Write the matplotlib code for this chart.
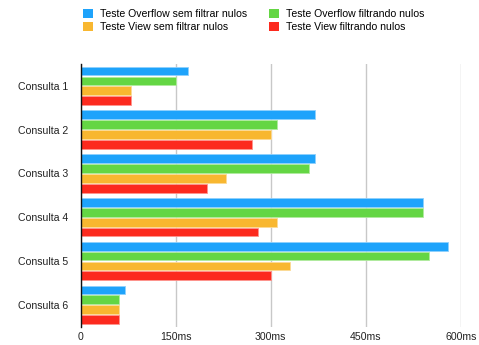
import matplotlib
matplotlib.use("Agg")
import matplotlib.pyplot as plt
import numpy as np
from matplotlib.patches import Patch

plt.rcParams['font.family'] = ['Liberation Sans', 'DejaVu Sans']

categories = ["Consulta 1", "Consulta 2", "Consulta 3", "Consulta 4", "Consulta 5", "Consulta 6"]
overflow_sem = [170, 370, 370, 540, 580, 70]
overflow_filtrando = [150, 310, 360, 540, 550, 60]
view_sem = [80, 300, 230, 310, 330, 60]
view_filtrando = [80, 270, 200, 280, 300, 60]
series_names = ["Teste Overflow sem filtrar nulos", "Teste Overflow filtrando nulos",
                "Teste View sem filtrar nulos", "Teste View filtrando nulos"]
xticks = [0, 150, 300, 450, 600]
xtick_labels = ["0", "150ms", "300ms", "450ms", "600ms"]

colors = ['#1ea3fb', '#64d644', '#f8b730', '#fc2a1e']
edges = ['#8fd0fd', '#b0eb9f', '#fcdb96', '#fd948d']

fig = plt.figure(figsize=(4.79, 3.45), dpi=100)
ax = fig.add_axes([80.5/479, 1-326.7/345, (461-80.5)/479, (326.7-64)/345])

series = [overflow_sem, overflow_filtrando, view_sem, view_filtrando]
y = np.arange(len(categories))
pitch = 0.226
h = 0.2
for i, (vals, c, e) in enumerate(zip(series, colors, edges)):
    ax.barh(y + (i - 1.5) * pitch, vals, height=h, color=c, edgecolor=e, linewidth=0.6, zorder=3)

ax.set_xlim(0, 600)
ax.set_ylim(len(categories) - 0.5, -0.5)
ax.set_yticks(y)
ax.set_yticklabels(categories, fontsize=7.6, color='#222222')
ax.set_xticks(xticks)
ax.set_xticklabels(xtick_labels, fontsize=7.6, color='#222222')
ax.tick_params(axis='both', length=0, pad=4)
ax.tick_params(axis='y', pad=9)
ax.grid(axis='x', color='#c8c8c8', linewidth=1.0, zorder=0)
for s in ['top', 'right', 'bottom']:
    ax.spines[s].set_visible(False)
ax.spines['left'].set_color('#111111')
ax.spines['left'].set_linewidth(1.0)
ax.spines['left'].set_zorder(4)

handles = [Patch(facecolor=colors[0]), Patch(facecolor=colors[2]),
           Patch(facecolor=colors[1]), Patch(facecolor=colors[3])]
labels = [series_names[0], series_names[2], series_names[1], series_names[3]]
fig.legend(handles, labels, loc='upper left', bbox_to_anchor=(83/479, 1-9/345), ncol=2,
           frameon=False, fontsize=7.6, handlelength=0.95, handleheight=0.85,
           handletextpad=0.65, columnspacing=2.05, labelspacing=0.3, borderaxespad=0,
           borderpad=0)

fig.savefig("out.png", dpi=100)
